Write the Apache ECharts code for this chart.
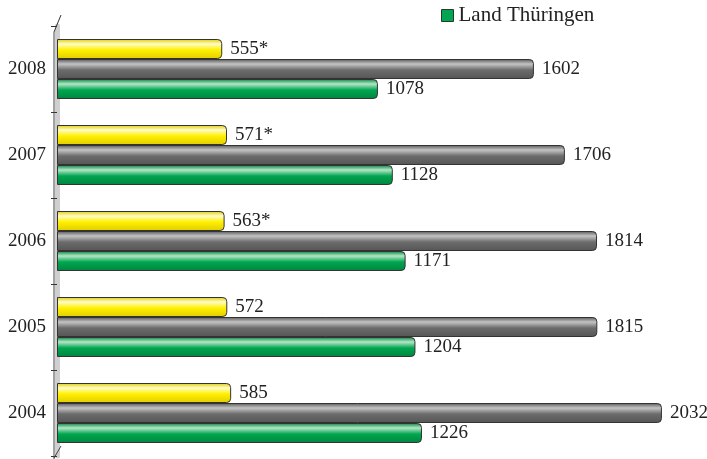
<!DOCTYPE html>
<html>
<head>
<meta charset="utf-8">
<script src="https://cdn.jsdelivr.net/npm/echarts@6/dist/echarts.min.js"></script>
<style>html,body{margin:0;padding:0;background:#fff;}#c{width:707px;height:459px;}</style>
</head>
<body>
<div id="c"></div>
<script>
const years = ['2004', '2005', '2006', '2007', '2008'];
const kreisValues = [585, 572, 563, 571, 555];
const kreisLabels = ['585', '572', '563*', '571*', '555*'];
const vergleichValues = [2032, 1815, 1814, 1706, 1602];
const landValues = [1226, 1204, 1171, 1128, 1078];
const seriesNames = ['Landkreis', 'Vergleich', 'Land Thüringen'];

const FONT = '"Liberation Serif", "DejaVu Serif", serif';

function grad(dark, light, main) {
  return new echarts.graphic.LinearGradient(0, 0, 0, 1, [
    { offset: 0, color: dark },
    { offset: 0.25, color: light },
    { offset: 0.55, color: main },
    { offset: 1, color: dark }
  ]);
}

const chart = echarts.init(document.getElementById('c'));
const labelBase = { show: true, position: 'right', distance: 8, color: '#222', fontFamily: FONT, fontSize: 19 };

chart.setOption({
  animation: false,
  backgroundColor: '#fff',
  legend: {
    data: ['Land Thüringen'],
    left: 436, top: 0,
    itemWidth: 12, itemHeight: 12, itemGap: 9,
    icon: 'rect',
    itemStyle: { color: '#00a650', borderColor: '#333', borderWidth: 1 },
    textStyle: { fontFamily: FONT, fontSize: 21, color: '#222' }
  },
  grid: { left: 57, right: 707 - 57 - 2100 * 0.2977, top: 26, height: 430 },
  xAxis: {
    type: 'value', min: 0, max: 2100, show: false
  },
  yAxis: {
    type: 'category', data: years,
    axisLine: { show: true, lineStyle: { color: '#cfcfcf', width: 5 } },
    axisTick: { show: true, length: 6, lineStyle: { color: '#333', width: 1 } },
    axisLabel: { fontFamily: FONT, fontSize: 19, color: '#222', margin: 11, padding: [12, 0, 0, 0] }
  },
  graphic: [
    { type: 'polyline', z: 100, shape: { points: [[54, 32], [61, 15]] }, style: { stroke: '#333', lineWidth: 1 } },
    { type: 'line', z: 100, shape: { x1: 54, y1: 32, x2: 54, y2: 459 }, style: { stroke: '#444', lineWidth: 1 } },
    { type: 'line', z: 100, shape: { x1: 54, y1: 458, x2: 61, y2: 446 }, style: { stroke: '#444', lineWidth: 1 } }
  ],
  series: [
    {
      name: seriesNames[0], type: 'bar', data: kreisValues, barWidth: 20, barGap: '0%',
      itemStyle: { color: grad('#e0cc00', '#fffcc8', '#fff000'), borderColor: '#333', borderWidth: 1, borderRadius: [0, 4, 4, 0] },
      label: Object.assign({}, labelBase, { formatter: p => kreisLabels[p.dataIndex] })
    },
    {
      name: seriesNames[1], type: 'bar', data: vergleichValues, barWidth: 20, barGap: '0%',
      itemStyle: { color: grad('#555555', '#c4c4c4', '#6c6c6c'), borderColor: '#333', borderWidth: 1, borderRadius: [0, 4, 4, 0] },
      label: labelBase
    },
    {
      name: seriesNames[2], type: 'bar', data: landValues, barWidth: 20, barGap: '0%',
      itemStyle: { color: grad('#00853f', '#b5e6c6', '#00a650'), borderColor: '#333', borderWidth: 1, borderRadius: [0, 4, 4, 0] },
      label: labelBase
    }
  ]
});
</script>
</body>
</html>
